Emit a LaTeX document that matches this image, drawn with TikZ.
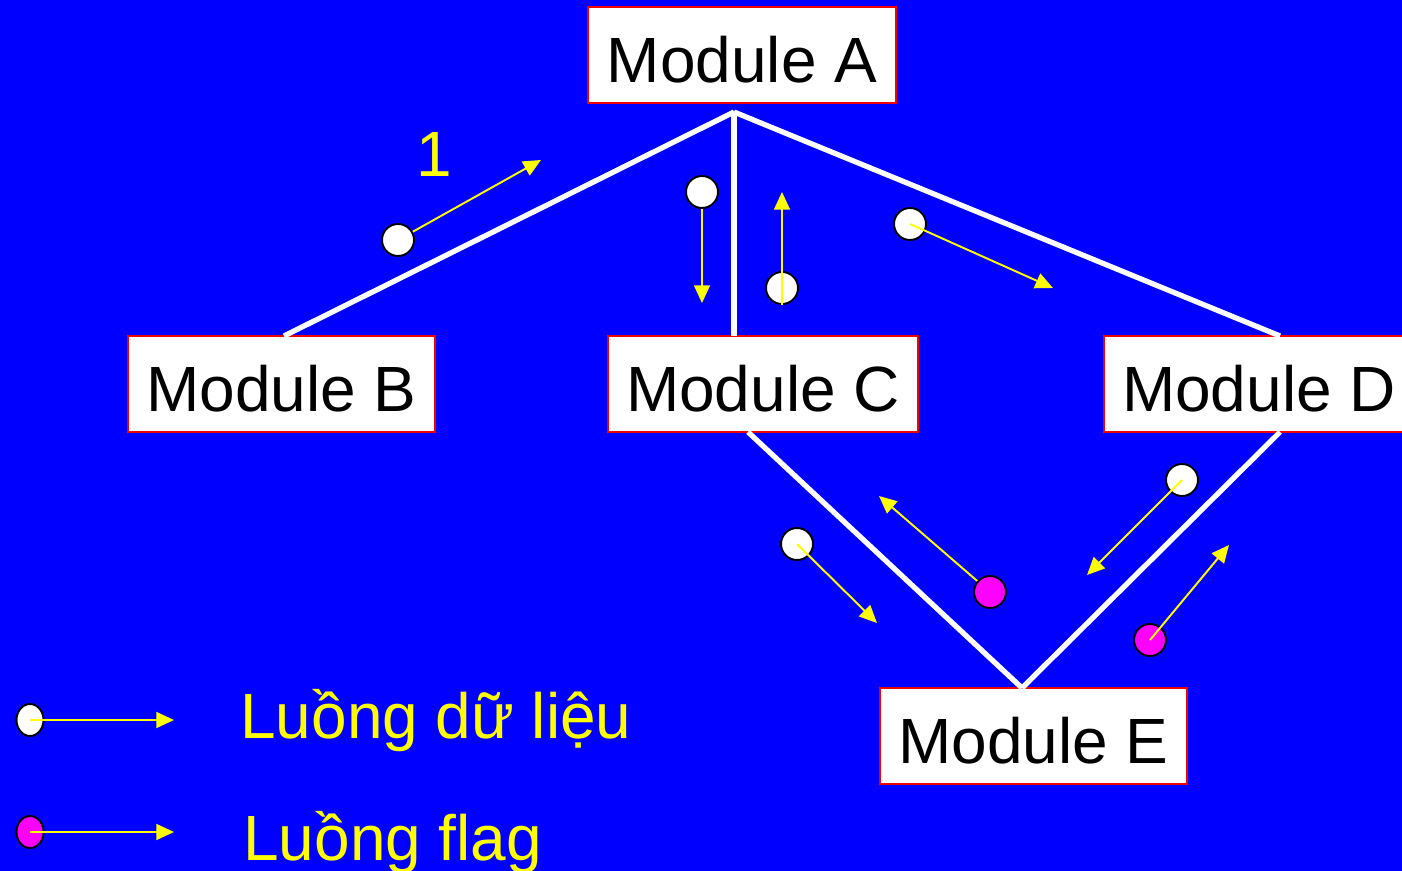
\documentclass[tikz,border=0pt]{standalone}
\usepackage{fontspec}
\setmainfont{Liberation Sans}
\usetikzlibrary{arrows.meta,shapes.geometric}
\definecolor{bgblue}{RGB}{0,0,255}
\definecolor{flowyellow}{RGB}{255,255,0}
\definecolor{flagpink}{RGB}{255,0,255}
\definecolor{boxred}{RGB}{240,0,0}
\begin{document}
\begin{tikzpicture}[x=0.02cm,y=-0.02cm,
  module/.style={draw=boxred, line width=1.1pt, fill=white, minimum height=1.92cm, inner sep=0pt, text height=30.8pt, text depth=0pt, text=black, font=\fontsize{36.4}{40}\selectfont},
  link/.style={white, line width=3pt},
  flow/.style={flowyellow, line width=1.1pt, -{Triangle[length=10pt,width=9pt]}},
  dot/.style={circle, draw=black, line width=1.1pt, fill=white, minimum size=0.64cm, inner sep=0pt},
  flagdot/.style={dot, fill=flagpink},
  legdot/.style={ellipse, draw=black, line width=1.1pt, fill=white, minimum width=0.54cm, minimum height=0.64cm, inner sep=0pt},
  legflag/.style={legdot, fill=flagpink},
  label/.style={text=flowyellow, inner sep=0pt, font=\fontsize{36.4}{40}\selectfont}]
\fill[bgblue] (0,0) rectangle (1402,871);
\useasboundingbox (0,0) rectangle (1402,871);
\begin{scope}
\clip (0,0) rectangle (1402,871);
% modules
\node[module, minimum width=6.16cm] (A) at (742,55) {Module A};
\node[module, minimum width=6.14cm] (B) at (281.5,384) {Module B};
\node[module, minimum width=6.2cm] (C) at (763,384) {Module C};
\node[module, minimum width=6.2cm] (D) at (1259,384) {Module D};
\node[module, minimum width=6.14cm] (E) at (1033.5,736) {Module E};
% junction points
\coordinate (aj) at (734,112);
\coordinate (bj) at (284,336);
\coordinate (cj) at (734,336);
\coordinate (dj) at (1280,336);
\coordinate (cb) at (748,432);
\coordinate (db) at (1280,432);
\coordinate (ej) at (1022,688);
\draw[link] (aj) -- (bj);
\draw[link] (aj) -- (cj);
\draw[link] (aj) -- (dj);
\draw[link] (cb) -- (ej);
\draw[link] (db) -- (ej);
% dots
\node[dot] (c1) at (398,240) {};
\node[dot] (c2) at (702,192) {};
\node[dot] (c3) at (782,288) {};
\node[dot] (c4) at (910,224) {};
\node[dot] (c5) at (797,544) {};
\node[flagdot] (c6) at (990,592) {};
\node[dot] (c7) at (1182,480) {};
\node[flagdot] (c8) at (1150,640) {};
% arrow tips
\coordinate (t1) at (541,160);
\coordinate (t2) at (702,303);
\coordinate (t3) at (782,192);
\coordinate (t4) at (1053,288);
\coordinate (t5) at (877,623);
\coordinate (t6) at (879,496);
\coordinate (t7) at (1087,575);
\coordinate (t8) at (1229,545);
\draw[flow] (c1) -- (t1);
\draw[flow] (c2) -- (t2);
\draw[flow] (c3.south) -- (t3);
\draw[flow] (c4.center) -- (t4);
\draw[flow] (c5.center) -- (t5);
\draw[flow] (c6) -- (t6);
\draw[flow] (c7.center) -- (t7);
\draw[flow] (c8.center) -- (t8);
% label 1
\node[label, anchor=base] (one) at (434,177) {1};
% legend
\node[legdot] (l1) at (30,720) {};
\node[legflag] (l2) at (30,832) {};
\coordinate (lt1) at (174,720);
\coordinate (lt2) at (174,832);
\draw[flow] (l1.center) -- (lt1);
\draw[flow] (l2.center) -- (lt2);
\node[label, anchor=base west] (lg1) at (240,738) {Luồng dữ liệu};
\node[label, anchor=base west] (lg2) at (243,860) {Luồng flag};
\end{scope}
\end{tikzpicture}
\end{document}
